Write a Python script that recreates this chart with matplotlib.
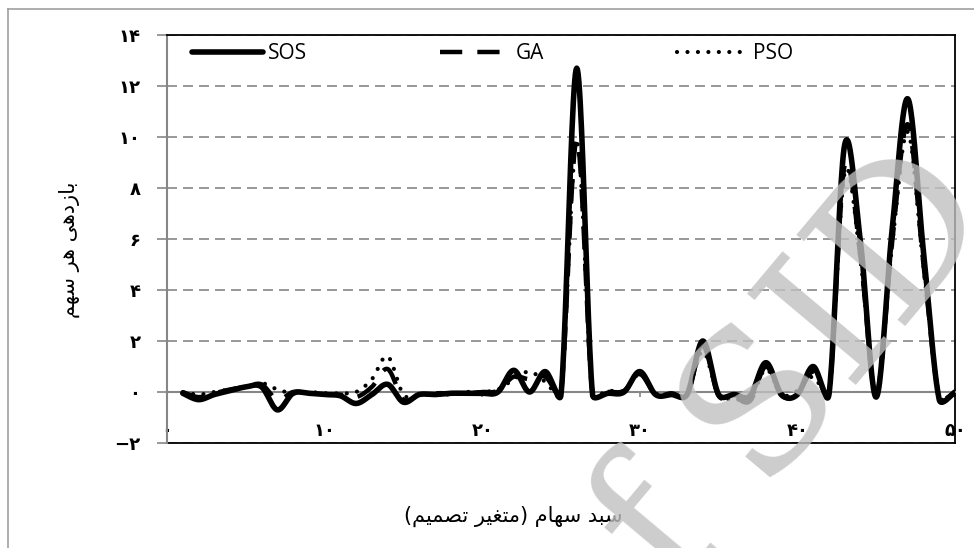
import matplotlib
matplotlib.use("Agg")
import matplotlib.pyplot as plt
from matplotlib.lines import Line2D
import numpy as np

# stock index 1..50 and the return of each stock for the three methods
x_vals = list(range(1, 51))
sos = [-0.05, -0.3, -0.1, 0.05, 0.2, 0.2, -0.7, -0.05, -0.05, -0.1,
       -0.15, -0.45, -0.1, 0.3, -0.4, -0.1, -0.1, -0.05, -0.05, -0.05,
       0.0, 0.85, 0.0, 0.8, -0.1, 12.7, -0.1, -0.05, 0.0, 0.8,
       -0.1, -0.1, -0.1, 2.0, -0.1, -0.1, -0.15, 1.15, -0.1, -0.1,
       1.0, -0.1, 9.7, 5.9, -0.2, 6.3, 11.5, 5.5, -0.3, 0.0]
ga = [0.0, -0.2, -0.05, 0.1, 0.2, 0.3, -0.3, 0.0, -0.05, -0.1,
      -0.1, -0.2, 0.2, 0.9, -0.3, -0.1, -0.05, -0.05, -0.05, 0.0,
      0.05, 0.6, 0.5, 0.6, -0.05, 9.9, -0.1, 0.0, 0.05, 0.7,
      -0.1, -0.05, -0.1, 1.8, -0.15, -0.2, -0.35, 1.0, -0.15, -0.05,
      0.8, -0.1, 8.9, 5.3, -0.1, 5.8, 10.5, 5.0, -0.2, 0.0]
pso = [0.0, -0.1, 0.0, 0.1, 0.2, 0.35, 0.1, -0.05, 0.0, -0.05,
       -0.05, 0.0, 0.5, 1.4, -0.1, -0.15, -0.05, -0.1, 0.0, 0.0,
       0.1, 0.5, 0.8, 0.4, -0.1, 9.8, -0.05, 0.05, 0.05, 0.7,
       -0.05, -0.1, -0.05, 1.6, -0.15, -0.25, -0.3, 0.9, -0.1, 0.05,
       0.6, -0.1, 8.6, 5.2, -0.1, 5.7, 10.2, 4.9, -0.2, 0.0]
x_ticks = [0, 10, 20, 30, 40, 50]
y_ticks = [-2, 0, 2, 4, 6, 8, 10, 12, 14]
x_title = "سبد سهام (متغیر تصمیم)"
y_title = "بازدهی هر سهم"

# isolated, final, initial, medial presentation forms
FORMS = {
    "ا": ("\uFE8D", "\uFE8E", None, None),
    "ب": ("\uFE8F", "\uFE90", "\uFE91", "\uFE92"),
    "ت": ("\uFE95", "\uFE96", "\uFE97", "\uFE98"),
    "د": ("\uFEA9", "\uFEAA", None, None),
    "ر": ("\uFEAD", "\uFEAE", None, None),
    "ز": ("\uFEAF", "\uFEB0", None, None),
    "س": ("\uFEB1", "\uFEB2", "\uFEB3", "\uFEB4"),
    "ص": ("\uFEB9", "\uFEBA", "\uFEBB", "\uFEBC"),
    "غ": ("\uFECD", "\uFECE", "\uFECF", "\uFED0"),
    "م": ("\uFEE1", "\uFEE2", "\uFEE3", "\uFEE4"),
    "ه": ("\uFEE9", "\uFEEA", "\uFEEB", "\uFEEC"),
    "ی": ("\uFBFC", "\uFBFD", "\uFBFE", "\uFBFF"),
}
NO_LEFT_JOIN = set("ادذرزژو")


def shape(text):
    # matplotlib has no arabic shaping, so pick the joined forms by hand
    out = []
    for i, c in enumerate(text):
        if c not in FORMS:
            out.append(c)
            continue
        prev = text[i - 1] if i > 0 else ""
        nxt = text[i + 1] if i + 1 < len(text) else ""
        jp = prev in FORMS and prev not in NO_LEFT_JOIN
        jn = nxt in FORMS and c not in NO_LEFT_JOIN
        iso, fin, ini, med = FORMS[c]
        if jp and jn:
            out.append(med)
        elif jp:
            out.append(fin)
        elif jn:
            out.append(ini)
        else:
            out.append(iso)
    mirror = {"(": ")", ")": "("}
    return "".join(mirror.get(c, c) for c in reversed(out))


def fa(n):
    s = str(abs(n)).translate(str.maketrans("0123456789", "۰۱۲۳۴۵۶۷۸۹"))
    return "\u2212" + s if n < 0 else s


def smooth(ax, xs, ys, n=24):
    # excel style smoothed line: bezier segments built in screen space
    pts = ax.transData.transform(np.column_stack([xs, ys]))
    out = [pts[0]]
    last = len(pts) - 1
    for i in range(last):
        p0, p1 = pts[max(i - 1, 0)], pts[i]
        p2, p3 = pts[i + 1], pts[min(i + 2, last)]
        d12 = np.hypot(*(p2 - p1))
        d02 = np.hypot(*(p2 - p0))
        d13 = np.hypot(*(p3 - p1))
        f1 = 1 / 6 if d02 / 6 < d12 / 2 else d12 / 2 / d02
        f2 = 1 / 6 if d13 / 6 < d12 / 2 else d12 / 2 / d13
        c1 = p1 + (p2 - p0) * f1
        c2 = p2 - (p3 - p1) * f2
        t = np.linspace(0, 1, n)[1:, None]
        seg = (1 - t) ** 3 * p1 + 3 * (1 - t) ** 2 * t * c1 + 3 * (1 - t) * t ** 2 * c2 + t ** 3 * p2
        out.extend(seg)
    return ax.transData.inverted().transform(np.array(out))


grey = "#868686"
fig = plt.figure(figsize=(9.74, 5.48), dpi=100)
ax = fig.add_axes([167 / 974, 1 - 443 / 548, 788 / 974, 408 / 548])
ax.set_xlim(0, 50)
ax.set_ylim(-2, 14)

# move the x axis to zero first, this resets the tick label settings
ax.spines["bottom"].set_position(("data", 0))
for side in ["left", "bottom"]:
    ax.spines[side].set_color(grey)
    ax.spines[side].set_linewidth(1.5)
for side in ["top", "right"]:
    ax.spines[side].set_color("black")
    ax.spines[side].set_linewidth(1.3)
ax.axhline(-2, color="black", lw=1.3, clip_on=False, zorder=2)

g = smooth(ax, x_vals, ga)
p = smooth(ax, x_vals, pso)
s = smooth(ax, x_vals, sos)
l_ga, = ax.plot(g[:, 0], g[:, 1], color="black", lw=3.2, ls=(0, (5, 3.4)), zorder=3, label="GA")
l_pso, = ax.plot(p[:, 0], p[:, 1], color="black", lw=3.0, ls=(0, (0.01, 2.5)),
                 dash_capstyle="round", zorder=3, label="PSO")
l_sos, = ax.plot(s[:, 0], s[:, 1], color="black", lw=4.0, solid_capstyle="round", zorder=4, label="SOS")

ax.set_yticks(y_ticks)
ax.set_yticklabels([fa(v) for v in y_ticks], fontweight="bold", fontsize=13, family="DejaVu Sans")
ax.set_xticks(x_ticks)
ax.set_xticklabels([fa(v) for v in x_ticks], fontweight="bold", fontsize=13, family="DejaVu Sans")
ax.tick_params(axis="y", direction="out", length=7.2, width=1.2, color=grey, pad=12)
ax.tick_params(axis="x", direction="out", length=3.6, width=1.2, color=grey, pad=18)
ax.yaxis.grid(True, color=grey, lw=1.2, ls=(0, (6, 3.6)))
ax.set_axisbelow(True)

ax.legend(handles=[l_sos, l_ga, l_pso], loc="upper left", bbox_to_anchor=(0.0216, 1.0),
          borderaxespad=0, ncol=3, frameon=False, handlelength=3.4, handletextpad=0.25,
          columnspacing=6.35, prop={"family": "Open Sans", "size": 15})

ax.text(0.439, -0.181, shape(x_title), transform=ax.transAxes, ha="center", va="center",
        fontsize=15, family="DejaVu Sans")
ax.text(-0.124, 0.473, shape(y_title), transform=ax.transAxes, ha="center", va="center",
        rotation=90, fontsize=15, family="DejaVu Sans")

# outer frame of the figure box
fig.add_artist(Line2D([8 / 974, 1], [1 - 9 / 548, 1 - 9 / 548], transform=fig.transFigure,
                      color="#a0a0a0", lw=1.2))
fig.add_artist(Line2D([8 / 974, 8 / 974], [0, 1 - 9 / 548], transform=fig.transFigure,
                      color="#a0a0a0", lw=1.2))

# watermark
fig.text(0.78, 0.24, "of SID", rotation=50, fontsize=140, family="DejaVu Serif",
         color="#c0c0c0", alpha=0.8, ha="center", va="center", zorder=10)

fig.savefig("out.png", dpi=100)
